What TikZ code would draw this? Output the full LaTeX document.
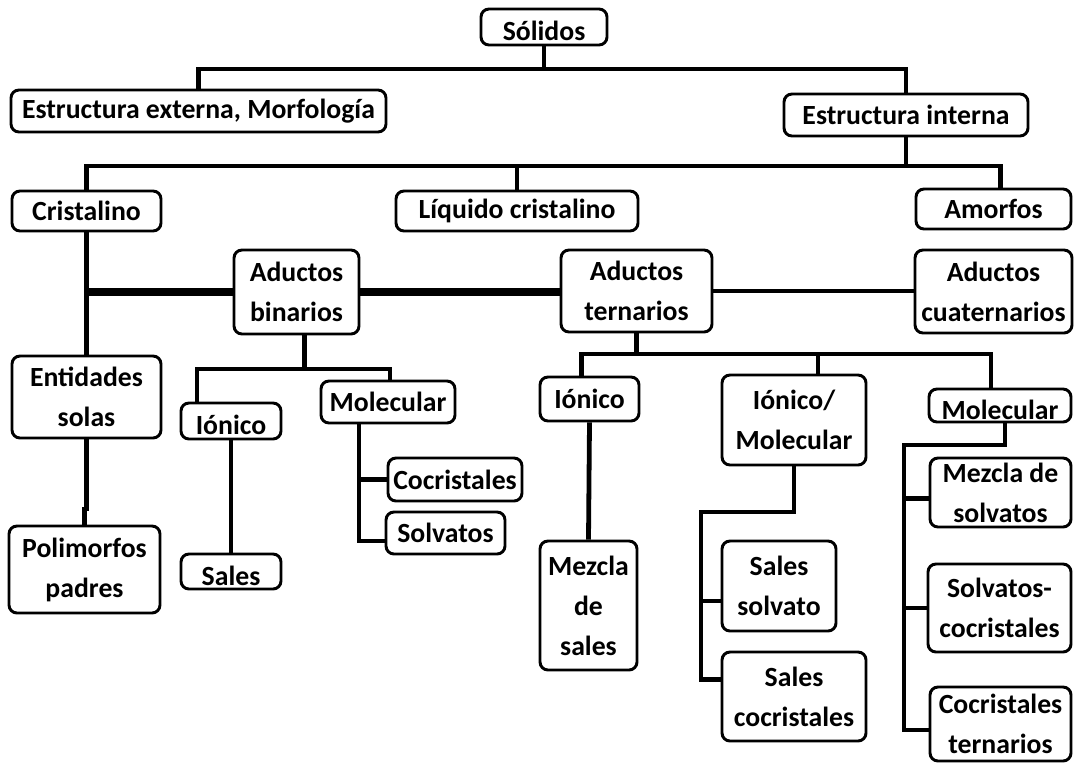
\documentclass[tikz,border=0pt]{standalone}
\usepackage{fontspec}
\setmainfont{Carlito}
\usetikzlibrary{calc}

% box given by its left, top, right and bottom edges (in px, y downwards)
\newcommand\bx[6]{%
  \pgfmathsetmacro\bw{(#4-#2)*0.75}%
  \pgfmathsetmacro\bh{(#5-#3)*0.75}%
  \pgfmathsetmacro\bcx{(#2+#4)/2}%
  \pgfmathsetmacro\bcy{-(#3+#5)/2}%
  \node[box,minimum width=\bw pt,minimum height=\bh pt] (#1) at (\bcx,\bcy) {#6};}
% text lowered inside its box
\newcommand\low[2]{\raisebox{-#1}[\height][\depth]{#2}}

\tikzset{
  box/.style={draw,line width=2.2pt,rounded corners=6pt,align=center,
    inner sep=0pt,fill=white,
    font=\fontsize{20.8}{30}\selectfont\bfseries},
  conn/.style={line width=3.6pt,line join=miter},
  thickconn/.style={line width=5.5pt},
}

\begin{document}
\begin{tikzpicture}[x=0.75pt,y=0.75pt]
\useasboundingbox (0,0) rectangle (1078,-764);
\fill[white] (0,0) rectangle (1078,-764);

% ---------- boxes ----------
\bx{solidos}{481}{9}{607}{45}{\low{3pt}{Sólidos}}
\bx{ext}{11}{90}{386}{132}{Estructura externa, Morfología}
\bx{int}{784}{94}{1028}{136}{Estructura interna}
\bx{cris}{12}{191}{161}{231}{Cristalino}
\bx{liq}{396}{191}{638}{231}{Líquido cristalino}
\bx{amor}{916}{189}{1071}{229}{Amorfos}
\bx{bin}{234}{250}{359}{334}{Aductos\\binarios}
\bx{ter}{561}{250}{712}{332}{Aductos\\ternarios}
\bx{cuat}{915}{250}{1072}{333}{Aductos\\cuaternarios}
\bx{ent}{12}{356}{161}{438}{Entidades\\solas}
\bx{poli}{9}{526}{160}{613}{Polimorfos\\padres}
\bx{ioni}{181}{403}{281}{439}{\low{3pt}{Iónico}}
\bx{moli}{321}{381}{455}{423}{Molecular}
\bx{coci}{388}{458}{522}{501}{Cocristales}
\bx{solvi}{386}{512}{505}{554}{Solvatos}
\bx{sales}{181}{554}{281}{589}{\low{3pt}{Sales}}
\bx{ionii}{540}{377}{639}{421}{Iónico}
\bx{ionmol}{722}{375}{866}{465}{Iónico/\\Molecular}
\bx{molii}{929}{389}{1071}{422}{\low{3pt}{Molecular}}
\bx{mezsal}{540}{541}{637}{670}{Mezcla\\de\\sales}
\bx{salsolv}{722}{541}{836}{631}{Sales\\solvato}
\bx{salcoc}{722}{652}{866}{741}{Sales\\cocristales}
\bx{mezsolv}{930}{458}{1071}{527}{Mezcla de\\solvatos}
\bx{solvcoc}{928}{564}{1071}{652}{Solvatos-\\cocristales}
\bx{cocter}{930}{687}{1071}{761}{Cocristales\\ternarios}

% ---------- connectors ----------
% Sólidos
\coordinate (ha) at (0,-69);
\draw[conn] (solidos.south) -- (solidos.south |- ha);
\draw[conn] (ext.north) -- (ext.north |- ha) -- (int.north |- ha) -- (int.north);

% Estructura interna
\coordinate (hb) at (0,-166);
\coordinate (amtop) at ($(amor.north)+(7,0)$);
\draw[conn] (int.south) -- (int.south |- hb);
\draw[conn] (cris.north) -- (cris.north |- hb) -- (amtop |- hb) -- (amtop);
\draw[conn] (liq.north) -- (liq.north |- hb);

% Cristalino
\draw[conn] (cris.south) -- (ent.north);
\coordinate (hj) at (0,-509);
\draw[conn] (ent.south) -- (ent.south |- hj) -- (poli.north |- hj) -- (poli.north);
\draw[thickconn] (cris.south |- bin.west) -- (bin.west);
\draw[thickconn] (bin.east) -- (bin.east -| ter.west);
\draw[conn] (ter.east) -- (ter.east -| cuat.west);

% Aductos binarios
\coordinate (hc) at (0,-369);
\coordinate (bs) at ($(bin.south)+(8,0)$);
\coordinate (it) at ($(ioni.north)+(-34,0)$);
\coordinate (mt) at ($(moli.north)+(2,0)$);
\draw[conn] (bs) -- (bs |- hc);
\draw[conn] (it) -- (it |- hc) -- (mt |- hc) -- (mt);
\draw[conn] (ioni.south) -- (sales.north);
\coordinate (mb) at ($(moli.south)+(-29,0)$);
\coordinate (sw) at ($(solvi.west)+(0,-8)$);
\draw[conn] (mb) -- (mb |- sw) -- (sw);
\draw[conn] (mb |- coci.west) -- (coci.west);

% Aductos ternarios
\coordinate (hd) at (0,-354);
\coordinate (i2t) at ($(ionii.north)+(-8,0)$);
\coordinate (imt) at ($(ionmol.north)+(24,0)$);
\coordinate (m2t) at ($(molii.north)+(-9,0)$);
\draw[conn] (ter.south) -- (ter.south |- hd);
\draw[conn] (i2t) -- (i2t |- hd) -- (m2t |- hd) -- (m2t);
\draw[conn] (imt) -- (imt |- hd);
\draw[conn] (ionii.south) -- (mezsal.north);

% Iónico/Molecular
\coordinate (he) at (0,-512);
\coordinate (vx) at (701,0);
\coordinate (ssw) at ($(salsolv.west)+(0,-15)$);
\coordinate (scw) at ($(salcoc.west)+(0,17)$);
\draw[conn] (ionmol.south) -- (ionmol.south |- he) -- (vx |- he) -- (vx |- scw) -- (scw);
\draw[conn] (vx |- ssw) -- (ssw);

% Molecular (ternarios)
\coordinate (hf) at (0,-445);
\coordinate (wx) at (904,0);
\coordinate (m2b) at ($(molii.south)+(5,0)$);
\coordinate (msw) at ($(mezsolv.west)+(0,-6)$);
\coordinate (ctw) at ($(cocter.west)+(0,-6)$);
\draw[conn] (m2b) -- (m2b |- hf) -- (wx |- hf) -- (wx |- ctw) -- (ctw);
\draw[conn] (wx |- msw) -- (msw);
\draw[conn] (wx |- solvcoc.west) -- (solvcoc.west);
\end{tikzpicture}
\end{document}
